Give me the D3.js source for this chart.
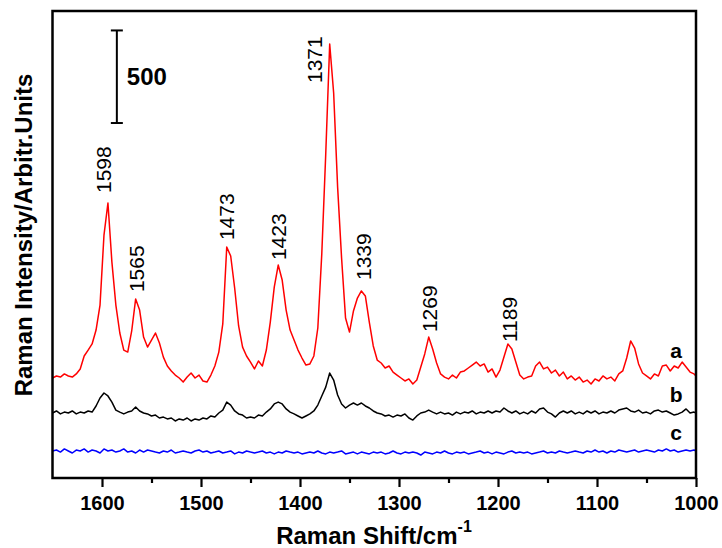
<!DOCTYPE html>
<html><head><meta charset="utf-8">
<script src="https://cdn.jsdelivr.net/npm/d3@7"></script>
<style>body{margin:0;background:#fff}</style>
</head><body><svg id="c" width="722" height="548"></svg>
<script>
// ---- data ----
const wavenumbers = [1650,1646,1642,1638,1634,1630,1626,1622,1618,1614,1610,1606,1602,1598,1594,1590,1586,1582,1578,1574,1570,1566,1562,1558,1554,1550,1546,1542,1538,1534,1530,1526,1522,1518,1514,1510,1506,1502,1498,1494,1490,1486,1482,1478,1474,1470,1466,1462,1458,1454,1450,1446,1442,1438,1434,1430,1426,1422,1418,1414,1410,1406,1402,1398,1394,1390,1386,1382,1378,1374,1370,1366,1362,1358,1354,1350,1346,1342,1338,1334,1330,1326,1322,1318,1314,1310,1306,1302,1298,1294,1290,1286,1282,1278,1274,1270,1266,1262,1258,1254,1250,1246,1242,1238,1234,1230,1226,1222,1218,1214,1210,1206,1202,1198,1194,1190,1186,1182,1178,1174,1170,1166,1162,1158,1154,1150,1146,1142,1138,1134,1130,1126,1122,1118,1114,1110,1106,1102,1098,1094,1090,1086,1082,1078,1074,1070,1066,1062,1058,1054,1050,1046,1042,1038,1034,1030,1026,1022,1018,1014,1010,1006,1002,1000];

const intensityA = [
540,551,545,562,551,545,562,589,659,691,
724,799,934,1312,1485,1166,934,783,691,680,
794,967,907,761,707,745,783,729,653,605,
578,556,540,518,545,567,540,556,524,518,
556,605,680,832,1247,1199,1026,821,707,659,
626,589,632,605,691,842,1031,1150,1069,907,
799,745,691,648,610,616,659,810,1210,1750,
2344,2079,1571,1188,864,788,902,972,1010,983,
842,713,637,621,594,605,572,556,540,524,
535,508,529,599,670,761,697,621,562,545,
535,556,540,572,578,594,610,626,605,616,
572,589,545,583,653,724,697,626,556,535,
545,551,605,626,589,599,567,583,551,572,
535,551,529,545,518,529,508,535,524,551,
535,545,524,562,578,648,740,702,616,567,
551,535,562,551,605,610,578,605,594,626,
599,572,562,551];

const intensityB = [
351,362,346,356,351,362,346,356,351,362,
356,389,432,459,443,410,367,356,346,356,
362,383,362,351,346,335,340,324,329,319,
324,308,319,313,324,308,319,313,324,319,
335,329,351,367,410,394,362,346,340,324,
329,324,340,335,356,373,400,410,400,373,
356,346,335,324,335,346,362,394,443,491,
567,529,448,400,378,394,405,394,405,389,
378,362,351,346,335,340,329,340,335,346,
324,313,335,351,356,367,356,346,356,346,
351,340,356,346,356,351,362,346,356,351,
362,351,362,356,378,362,351,362,346,356,
346,362,351,373,378,356,346,329,351,362,
351,362,346,356,346,362,351,362,346,356,
351,362,351,367,373,378,362,356,367,351,
356,346,362,367,356,362,351,340,346,356,
373,351,356,351];

const intensityC = [
146,151,140,157,146,135,151,146,157,140,
151,146,135,157,146,151,140,146,157,140,
146,135,151,140,151,146,140,135,146,140,
151,135,140,146,140,135,146,151,140,146,
135,140,146,135,140,146,130,140,135,146,
140,135,140,146,135,140,130,140,135,146,
140,135,140,130,135,140,135,146,135,130,
140,135,140,146,130,135,140,130,140,135,
130,140,135,140,130,135,146,135,130,140,
135,140,135,124,140,135,130,140,135,146,
135,130,140,135,140,130,135,140,146,135,
140,130,140,135,130,140,146,135,140,135,
140,130,135,140,146,135,140,135,146,140,
135,140,146,140,135,146,140,151,140,146,
135,146,140,151,146,140,146,151,140,146,
151,146,140,151,146,157,146,151,140,146,
151,146,151,146];

const seriesNames = ["a","b","c"];
const seriesColors = ["#ff0000","#000000","#0000ff"];
const seriesLabelShift = 1020;
const seriesLabelIntensity = [648,410,205];

const peakLabels = ["1598","1565","1473","1423","1371","1339","1269","1189"];
const peakLabelShift = [1598.0,1565.2,1474.2,1421.7,1384.8,1335.9,1268.7,1187.9];
const peakLabelIntensity = [1539,1004,1285,1177,2133,1069,788,734];

const majorTicks = [1600,1500,1400,1300,1200,1100,1000];
const minorTicks = [1550,1450,1350,1250,1150,1050];

const scaleBarValue = 500;
const scaleBarShift = 1585;
const scaleBarBase = 1917;

const xTitle = "Raman Shift/cm";
const xTitleSup = "-1";
const yTitle = "Raman Intensity/Arbitr.Units";

// ---- drawing ----
const font = "'Liberation Sans', Arial, Helvetica, sans-serif";
const svg = d3.select('#c');
const x = d3.scaleLinear().domain([1650,1000]).range([52.5,696]);
const y = d3.scaleLinear().domain([0,2522]).range([478,11]);

const allSeries = [intensityA,intensityB,intensityC];
const line = d3.line().x((d,i)=>x(wavenumbers[i])).y(d=>y(d));

[2,1,0].forEach(k=>{
  svg.append('path').attr('d', line(allSeries[k]))
    .attr('fill','none').attr('stroke',seriesColors[k])
    .attr('stroke-width',1.5).attr('stroke-linejoin','round');
});

// frame
svg.append('rect').attr('x',x(1650)).attr('y',y(2522))
  .attr('width',x(1000)-x(1650)).attr('height',y(0)-y(2522))
  .attr('fill','none').attr('stroke','#000').attr('stroke-width',2.5);

// axes
const gMaj = svg.append('g').attr('transform',`translate(0,${y(0)})`)
  .call(d3.axisBottom(x).tickValues(majorTicks).tickSize(9).tickPadding(9).tickFormat(d3.format('d')));
gMaj.select('.domain').remove();
gMaj.selectAll('line').attr('stroke','#000').attr('stroke-width',2.2);
gMaj.selectAll('text').attr('font-size',20).attr('font-weight','bold')
  .attr('font-family',font).attr('fill','#000');

const gMin = svg.append('g').attr('transform',`translate(0,${y(0)})`)
  .call(d3.axisBottom(x).tickValues(minorTicks).tickSize(5).tickFormat(''));
gMin.select('.domain').remove();
gMin.selectAll('line').attr('stroke','#000').attr('stroke-width',2.2);

// titles
const xt = svg.append('text').attr('x',374).attr('y',544)
  .attr('text-anchor','middle').attr('font-family',font)
  .attr('font-weight','bold').attr('font-size',24).attr('fill','#000');
xt.append('tspan').text(xTitle);
xt.append('tspan').attr('font-size',16).attr('dy',-12).text(xTitleSup);

svg.append('text').attr('transform','translate(32,235) rotate(-90)')
  .attr('text-anchor','middle').attr('font-family',font)
  .attr('font-weight','bold').attr('font-size',24).attr('fill','#000')
  .text(yTitle);

// peak labels
peakLabels.forEach((t,i)=>{
  svg.append('text')
    .attr('transform',`translate(${x(peakLabelShift[i])},${y(peakLabelIntensity[i])}) rotate(-90)`)
    .attr('text-anchor','start').attr('dy','0.35em')
    .attr('font-family',font).attr('font-size',21).attr('fill','#000')
    .text(t);
});

// series labels
seriesNames.forEach((n,i)=>{
  svg.append('text').attr('x',x(seriesLabelShift)).attr('y',y(seriesLabelIntensity[i]))
    .attr('text-anchor','middle').attr('font-family',font)
    .attr('font-weight','bold').attr('font-size',21).attr('fill','#000').text(n);
});

// scale bar
const bx = x(scaleBarShift), by0 = y(scaleBarBase), by1 = y(scaleBarBase+scaleBarValue);
const sb = svg.append('g').attr('stroke','#000').attr('stroke-width',2);
sb.append('line').attr('x1',bx).attr('x2',bx).attr('y1',by0).attr('y2',by1);
sb.append('line').attr('x1',bx-6).attr('x2',bx+6).attr('y1',by0).attr('y2',by0);
sb.append('line').attr('x1',bx-6).attr('x2',bx+6).attr('y1',by1).attr('y2',by1);
svg.append('text').attr('x',bx+10).attr('y',(by0+by1)/2+8)
  .attr('font-family',font).attr('font-weight','bold').attr('font-size',24)
  .attr('fill','#000').text(String(scaleBarValue));
</script></body></html>
